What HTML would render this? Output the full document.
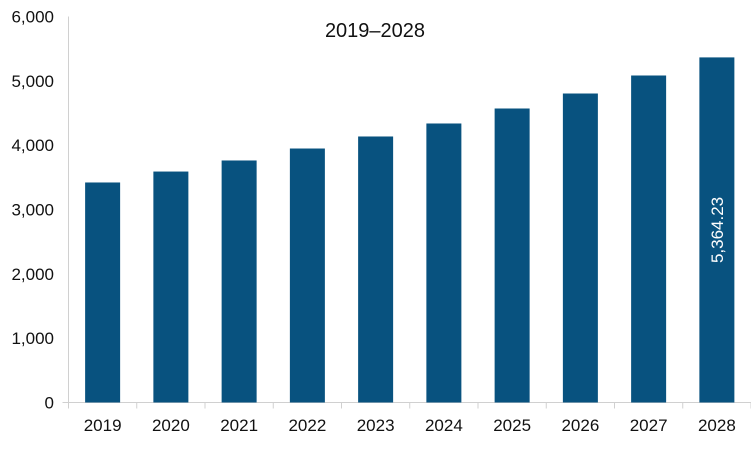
<!DOCTYPE html>
<html><head><meta charset="utf-8"><style>
body{margin:0;background:#fff;}
svg text{font-family:"Liberation Sans",sans-serif;fill:#111;}
</style></head><body>
<svg id="chart" width="751" height="451" xmlns="http://www.w3.org/2000/svg">
<text x="375" y="37" font-size="20" text-anchor="middle">2019–2028</text>
<g id="axes"></g><g id="bars"></g>
</svg>
<script>
const categories=["2019","2020","2021","2022","2023","2024","2025","2026","2027","2028"];
const values=[3420,3590,3762,3948,4135,4337,4570,4803,5083,5364.23];
const yTicks=[0,1000,2000,3000,4000,5000,6000];
const yTickLabels=["0","1,000","2,000","3,000","4,000","5,000","6,000"];
const lastLabel="5,364.23";
const NS="http://www.w3.org/2000/svg";
const x0=68.5,x1=751,y0=402.5,yTop=16.5,yMax=6000;
const step=(x1-x0)/categories.length;
const y=v=>y0-(v/yMax)*(y0-yTop);
const xc=i=>x0+step*(i+0.5);
function mk(t,a,p){const e=document.createElementNS(NS,t);for(const k in a)e.setAttribute(k,a[k]);p.appendChild(e);return e;}
const ax=document.getElementById('axes'),bg=document.getElementById('bars');
const yl=mk('line',{x1:x0,x2:x0,y1:yTop,y2:y0,stroke:'#d0d0d0'},ax);


const xl=mk('line',{x1:x0-6,x2:x1,y1:y0,y2:y0,stroke:'#d0d0d0'},ax);


yTicks.forEach((v,i)=>{
 const t=mk('text',{x:54,y:y(v)+6,'font-size':17,'text-anchor':'end'},ax);
 t.textContent=yTickLabels[i];
 
 
});
for(let i=0;i<=categories.length;i++){
 const tk=mk('line',{x1:x0+step*i,x2:x0+step*i,y1:y0,y2:y0+6,stroke:'#d0d0d0'},ax);
 
 
}
categories.forEach((c,i)=>{
 const t=mk('text',{x:xc(i),y:431,'font-size':17,'text-anchor':'middle'},ax);
 t.textContent=c;
 
 
 const bw=35;
 const r=mk('rect',{x:xc(i)-bw/2,y:y(values[i]),width:bw,height:y0-y(values[i]),fill:'#08527f'},bg);
 
 
});
const li=values.length-1;
const lx=xc(li)+6,ly=(y(values[li])+y0)/2;
const lt=mk('text',{x:lx,y:ly,'font-size':17,'text-anchor':'middle',transform:`rotate(-90 ${lx} ${ly})`},bg);
lt.textContent=lastLabel;
lt.style.fill='#fff';


</script>
</body></html>
